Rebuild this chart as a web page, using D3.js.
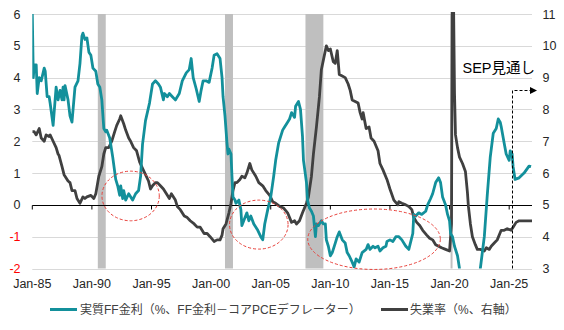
<!DOCTYPE html>
<html><head><meta charset="utf-8">
<script src="https://cdn.jsdelivr.net/npm/d3@7/dist/d3.min.js"></script>
<style>body{margin:0;background:#fff}svg{display:block}</style>
</head><body>
<svg id="c" width="564" height="330"></svg>
<script>
// ---- data ----
const realDates = ["1985-01","1985-02","1985-03","1985-05","1985-06","1985-08","1985-10","1986-01","1986-02","1986-04","1986-06","1986-07","1986-10","1987-01","1987-03","1987-05","1987-07","1987-08","1987-09","1987-10","1988-01","1988-03","1988-05","1988-08","1988-11","1989-01","1989-03","1989-04","1989-06","1989-08","1989-10","1989-12","1990-02","1990-05","1990-07","1990-09","1990-11","1991-01","1991-03","1991-04","1991-07","1991-10","1992-01","1992-03","1992-05","1992-06","1992-08","1992-09","1992-11","1993-02","1993-06","1993-09","1993-12","1994-02","1994-04","1994-07","1994-11","1995-02","1995-05","1995-08","1995-10","1996-01","1996-02","1996-05","1996-07","1996-10","1997-01","1997-05","1997-08","1997-12","1998-03","1998-05","1998-07","1998-10","1999-01","1999-03","1999-05","1999-08","1999-11","2000-02","2000-04","2000-07","2000-10","2000-12","2001-01","2001-03","2001-05","2001-06","2001-07","2001-09","2001-10","2001-11","2002-01","2002-02","2002-05","2002-07","2002-08","2003-01","2003-03","2003-05","2003-08","2003-12","2004-03","2004-05","2004-07","2004-10","2005-01","2005-04","2005-06","2005-09","2006-01","2006-03","2006-06","2006-08","2006-10","2007-01","2007-02","2007-05","2007-07","2007-09","2007-10","2008-01","2008-02","2008-04","2008-06","2008-08","2008-10","2008-11","2009-01","2009-04","2009-06","2009-08","2009-09","2009-11","2010-01","2010-03","2010-06","2010-08","2010-10","2011-01","2011-04","2011-06","2011-08","2011-11","2012-01","2012-03","2012-06","2012-09","2013-01","2013-03","2013-05","2013-08","2013-10","2014-01","2014-03","2014-06","2014-09","2014-10","2015-01","2015-04","2015-07","2015-10","2016-01","2016-05","2016-08","2016-12","2017-01","2017-03","2017-06","2017-09","2018-01","2018-03","2018-06","2018-08","2018-11","2019-02","2019-04","2019-06","2019-09","2019-11","2020-01","2020-02","2020-04","2020-06","2020-09","2020-11","2021-02","2021-06","2021-12","2022-03","2022-06","2022-08","2022-12","2023-03","2023-06","2023-09","2023-12","2024-02","2024-04","2024-05","2024-08","2024-10","2025-01","2025-02","2025-04","2025-05","2025-07","2025-11","2026-04","2026-09","2026-11"];
const realValues = [6.0,4.0,4.4,4.4,3.5,4.0,3.9,4.3,4.2,3.4,3.4,3.2,2.5,3.7,3.3,3.6,3.3,3.7,3.3,3.75,3.3,2.8,2.6,3.7,3.9,4.45,5.3,5.4,5.2,5.25,4.8,4.7,4.3,4.2,3.8,3.7,3.3,2.4,2.3,2.35,2.1,1.5,0.8,0.6,0.3,0.6,0.2,0.45,0.15,0.35,0.15,0.35,0.45,0.9,1.9,2.65,3.2,3.8,3.9,3.8,3.7,3.3,3.5,3.4,3.5,3.4,3.3,3.5,3.9,4.15,4.25,4.6,4.0,3.65,3.25,3.6,3.9,3.9,3.85,4.3,4.7,4.75,4.6,4.0,3.4,2.8,1.95,1.6,1.75,1.6,0.9,0.25,0.15,0.05,0.15,-0.15,-0.65,-0.25,-0.5,-0.35,-0.6,-0.8,-1.0,-1.1,-0.6,-0.15,0.25,0.9,1.4,1.95,2.35,2.45,2.6,2.7,2.9,2.75,3.1,3.25,3.0,2.15,1.4,0.7,0.15,-0.1,-0.2,-0.35,-1.0,-0.6,-0.65,-0.5,-0.6,-0.6,-1.1,-1.3,-1.6,-1.5,-1.2,-1.0,-0.85,-1.1,-1.2,-1.5,-1.6,-1.8,-1.95,-1.7,-1.8,-1.5,-1.4,-1.25,-1.4,-1.3,-1.35,-1.3,-1.45,-1.35,-1.3,-1.15,-1.1,-1.15,-1.0,-1.0,-1.1,-1.3,-1.4,-0.9,-0.3,-0.35,-0.25,-0.3,-0.2,0.0,0.2,0.35,0.7,0.85,0.7,0.25,0.0,-0.3,-0.5,-0.9,-1.0,-1.3,-1.6,-2.0,-2.5,-3.5,-4.8,-4.9,-3.3,-2.0,-1.0,0.3,1.5,2.25,2.4,2.7,2.6,2.46,1.94,1.6,1.4,1.7,1.6,1.2,0.8,0.85,1.0,1.22,1.2];

const unempDates = ["1985-01","1985-03","1985-05","1985-08","1985-10","1986-01","1986-03","1986-06","1986-07","1986-10","1987-01","1987-03","1987-04","1987-07","1987-09","1988-01","1988-03","1988-05","1988-08","1988-10","1989-01","1989-04","1989-06","1989-08","1989-12","1990-03","1990-05","1990-08","1990-11","1991-01","1991-03","1991-06","1991-09","1991-12","1992-02","1992-05","1992-06","1992-09","1992-11","1993-02","1993-04","1993-07","1993-10","1994-01","1994-04","1994-07","1994-10","1994-12","1995-02","1995-05","1995-07","1995-10","1996-01","1996-05","1996-07","1996-09","1997-01","1997-03","1997-06","1997-10","1998-01","1998-04","1998-08","1998-11","1999-02","1999-06","1999-09","1999-12","2000-04","2000-07","2000-10","2000-12","2001-01","2001-04","2001-07","2001-09","2001-11","2002-01","2002-03","2002-06","2002-08","2002-11","2003-01","2003-04","2003-06","2003-10","2004-01","2004-05","2004-08","2004-12","2005-03","2005-06","2005-10","2006-02","2006-06","2006-10","2007-01","2007-03","2007-06","2007-09","2007-11","2008-01","2008-03","2008-06","2008-08","2008-11","2009-02","2009-04","2009-06","2009-09","2009-11","2010-01","2010-04","2010-06","2010-08","2010-10","2011-01","2011-04","2011-07","2011-09","2011-11","2012-02","2012-05","2012-07","2012-09","2012-10","2013-01","2013-04","2013-06","2013-09","2014-01","2014-03","2014-06","2014-10","2015-01","2015-05","2015-09","2015-10","2016-01","2016-05","2016-08","2016-11","2017-01","2017-04","2017-07","2017-10","2018-02","2018-05","2018-08","2018-11","2019-02","2019-05","2019-09","2020-01","2020-03","2020-04","2020-05","2020-06","2020-07","2020-09","2020-11","2021-02","2021-05","2021-07","2021-08","2021-10","2021-12","2022-03","2022-05","2022-08","2022-12","2023-02","2023-05","2023-07","2023-10","2024-01","2024-05","2024-08","2024-11","2025-03","2025-05","2025-08","2025-11","2026-12"];
const unempValues = [7.3,7.3,7.2,7.4,7.1,7.0,7.2,7.15,7.2,7.0,6.8,6.6,6.55,6.2,5.95,5.75,5.7,5.45,5.45,5.2,5.05,5.25,5.2,5.25,5.3,5.2,5.35,5.9,6.2,6.6,6.8,6.8,7.0,7.3,7.5,7.7,7.8,7.55,7.35,7.1,7.0,6.8,6.7,6.35,6.15,5.95,5.75,5.5,5.6,5.7,5.7,5.6,5.5,5.3,5.2,5.35,5.15,4.95,4.85,4.65,4.6,4.5,4.4,4.3,4.3,4.1,4.1,4.0,3.85,3.9,3.9,4.05,4.25,4.4,4.75,5.05,5.45,5.7,5.7,5.8,5.9,5.85,6.0,6.3,6.1,5.9,5.7,5.6,5.45,5.3,5.1,5.05,4.95,4.9,4.75,4.45,4.5,4.4,4.5,4.75,4.9,5.05,5.25,5.9,6.6,7.45,8.4,9.25,9.55,10.0,9.85,9.9,9.5,9.45,9.85,9.1,9.05,9.0,8.8,8.6,8.3,8.25,8.2,7.9,7.7,7.9,7.4,7.45,7.1,7.0,6.7,6.3,6.1,5.8,5.5,5.15,5.0,5.1,5.05,5.0,4.95,4.85,4.6,4.45,4.35,4.2,4.05,3.95,3.9,3.75,3.7,3.65,3.6,3.55,4.4,14.8,11.5,8.5,7.2,6.8,6.5,6.3,6.05,5.4,4.95,4.4,4.0,3.75,3.6,3.6,3.55,3.65,3.6,3.7,3.8,3.9,4.2,4.2,4.25,4.2,4.3,4.45,4.5,4.5];

const recessionStarts = ["1990-07","2001-03","2007-12","2020-02"];
const recessionEnds   = ["1991-03","2001-11","2009-06","2020-04"];

const leftTicks  = [6,5,4,3,2,1,0,-1,-2];
const rightTicks = [11,10,9,8,7,6,5,4,3];
const xTickYears = [1985,1990,1995,2000,2005,2010,2015,2020,2025];
const xTickLabels = ["Jan-85","Jan-90","Jan-95","Jan-00","Jan-05","Jan-10","Jan-15","Jan-20","Jan-25"];

const seriesNames = ["実質FF金利（%、FF金利－コアPCEデフレーター）","失業率（%、右軸）"];
const sepLabel = "SEP見通し";
const sepStart = "2025-04";

// annotation ellipses (center date, center value on left axis, half-width in years, half-height in units)
const ellipseCenters = ["1993-04","2004-01","2013-09"];
const ellipseValues  = [0.28,-0.62,-1.08];
const ellipseHalfYears = [2.4,2.45,5.55];
const ellipseHalfUnits = [0.78,0.77,0.95];

// ---- drawing ----
const parse = d3.timeParse("%Y-%m");
const svg = d3.select("#c");
const L = 32.3, R = 532, T = 14, B = 268.5;

const x = d3.scaleTime().domain([parse("1985-01"), parse("2026-12")]).range([L, R]);
const yL = d3.scaleLinear().domain([-2, 6]).range([B, T]);
const yR = d3.scaleLinear().domain([3, 11]).range([B, T]);

const teal = "#13909b", gray = "#404040";
const font = "'Liberation Sans', Arial, 'Noto Sans CJK JP', sans-serif";

svg.append("defs").append("clipPath").attr("id","plot")
  .append("rect").attr("x",L).attr("y",T-2).attr("width",R-L).attr("height",B-T+2);

// gridlines
svg.append("g").selectAll("line").data(leftTicks).join("line")
  .attr("x1",L).attr("x2",R)
  .attr("y1",d=>Math.round(yL(d))+0.5).attr("y2",d=>Math.round(yL(d))+0.5)
  .attr("stroke","#d9d9d9").attr("stroke-width",1);

// recession bands
svg.append("g").selectAll("rect").data(recessionStarts).join("rect")
  .attr("x",(d)=>x(parse(d)))
  .attr("width",(d,i)=>x(parse(recessionEnds[i]))-x(parse(d)))
  .attr("y",T).attr("height",B-T)
  .attr("fill","#bfbfbf");

// zero line + ticks
const y0 = Math.round(yL(0))+0.5;
svg.append("line").attr("x1",L).attr("x2",R).attr("y1",y0).attr("y2",y0)
  .attr("stroke","#000").attr("stroke-width",1);
svg.append("g").selectAll("line").data(xTickYears).join("line")
  .attr("x1",d=>x(new Date(d,0,1))).attr("x2",d=>x(new Date(d,0,1)))
  .attr("y1",y0).attr("y2",y0+4).attr("stroke","#000").attr("stroke-width",1);

// x labels
svg.append("g").selectAll("text").data(xTickYears).join("text")
  .attr("x",d=>x(new Date(d,0,1))).attr("y",287.5)
  .attr("text-anchor","middle").attr("font-family",font).attr("font-size",12.5)
  .attr("fill","#262626").text((d,i)=>xTickLabels[i]);

// left labels
svg.append("g").selectAll("text").data(leftTicks).join("text")
  .attr("x",20.5).attr("y",d=>yL(d)).attr("dy","0.36em")
  .attr("text-anchor","end").attr("font-family",font).attr("font-size",12.5)
  .attr("fill",d=>d<0?"#ff0000":"#262626").text(d=>d);

// right labels
svg.append("g").selectAll("text").data(rightTicks).join("text")
  .attr("x",542.5).attr("y",d=>yR(d)).attr("dy","0.36em")
  .attr("text-anchor","start").attr("font-family",font).attr("font-size",12.5)
  .attr("fill","#262626").text(d=>d);

// lines
const g = svg.append("g").attr("clip-path","url(#plot)");
const realData = realDates.map((d,i)=>({d:parse(d),v:realValues[i]}));
const unempData = unempDates.map((d,i)=>({d:parse(d),v:unempValues[i]}));

g.append("path").datum(unempData)
  .attr("d",d3.line().x(p=>x(p.d)).y(p=>yR(p.v)))
  .attr("fill","none").attr("stroke",gray).attr("stroke-width",2.8).attr("stroke-linejoin","round");
g.append("path").datum(realData)
  .attr("d",d3.line().x(p=>x(p.d)).y(p=>yL(p.v)))
  .attr("fill","none").attr("stroke",teal).attr("stroke-width",2.8).attr("stroke-linejoin","round");

// ellipses
svg.append("g").selectAll("ellipse").data(ellipseCenters).join("ellipse")
  .attr("cx",d=>x(parse(d))).attr("cy",(d,i)=>yL(ellipseValues[i]))
  .attr("rx",(d,i)=>ellipseHalfYears[i]*(x(new Date(2001,0,1))-x(new Date(2000,0,1))))
  .attr("ry",(d,i)=>yL(0)-yL(ellipseHalfUnits[i]))
  .attr("fill","none").attr("stroke","#e8403a").attr("stroke-width",1).attr("stroke-dasharray","3,2");

// SEP dashed arrow
const sx = Math.round(x(parse(sepStart)))+0.5;
const sy = Math.round(yR(8.62))+0.5;
const ax = 536;
svg.append("path").attr("d",`M${sx},${B}L${sx},${sy}L${ax-5},${sy}`)
  .attr("fill","none").attr("stroke","#000").attr("stroke-width",1).attr("stroke-dasharray","3,2");
svg.append("path").attr("d",`M${ax-6},${sy-3.5}L${ax+1},${sy}L${ax-6},${sy+3.5}Z`).attr("fill","#000");
svg.append("text").attr("x",535).attr("y",72.5).attr("text-anchor","end")
  .attr("font-family",font).attr("font-size",14.5).attr("fill","#000").text(sepLabel);

// legend
const legY = 309.5;
const leg = [{x1:50,x2:77,tx:80,c:teal},{x1:381,x2:408,tx:410,c:gray}];
svg.append("g").selectAll("line").data(leg).join("line")
  .attr("x1",d=>d.x1).attr("x2",d=>d.x2).attr("y1",legY).attr("y2",legY)
  .attr("stroke",d=>d.c).attr("stroke-width",3);
svg.append("g").selectAll("text").data(leg).join("text")
  .attr("x",d=>d.tx).attr("y",legY).attr("dy","0.36em")
  .attr("font-family",font).attr("font-size",12).attr("fill","#404040")
  .text((d,i)=>seriesNames[i]);
</script>
</body></html>
